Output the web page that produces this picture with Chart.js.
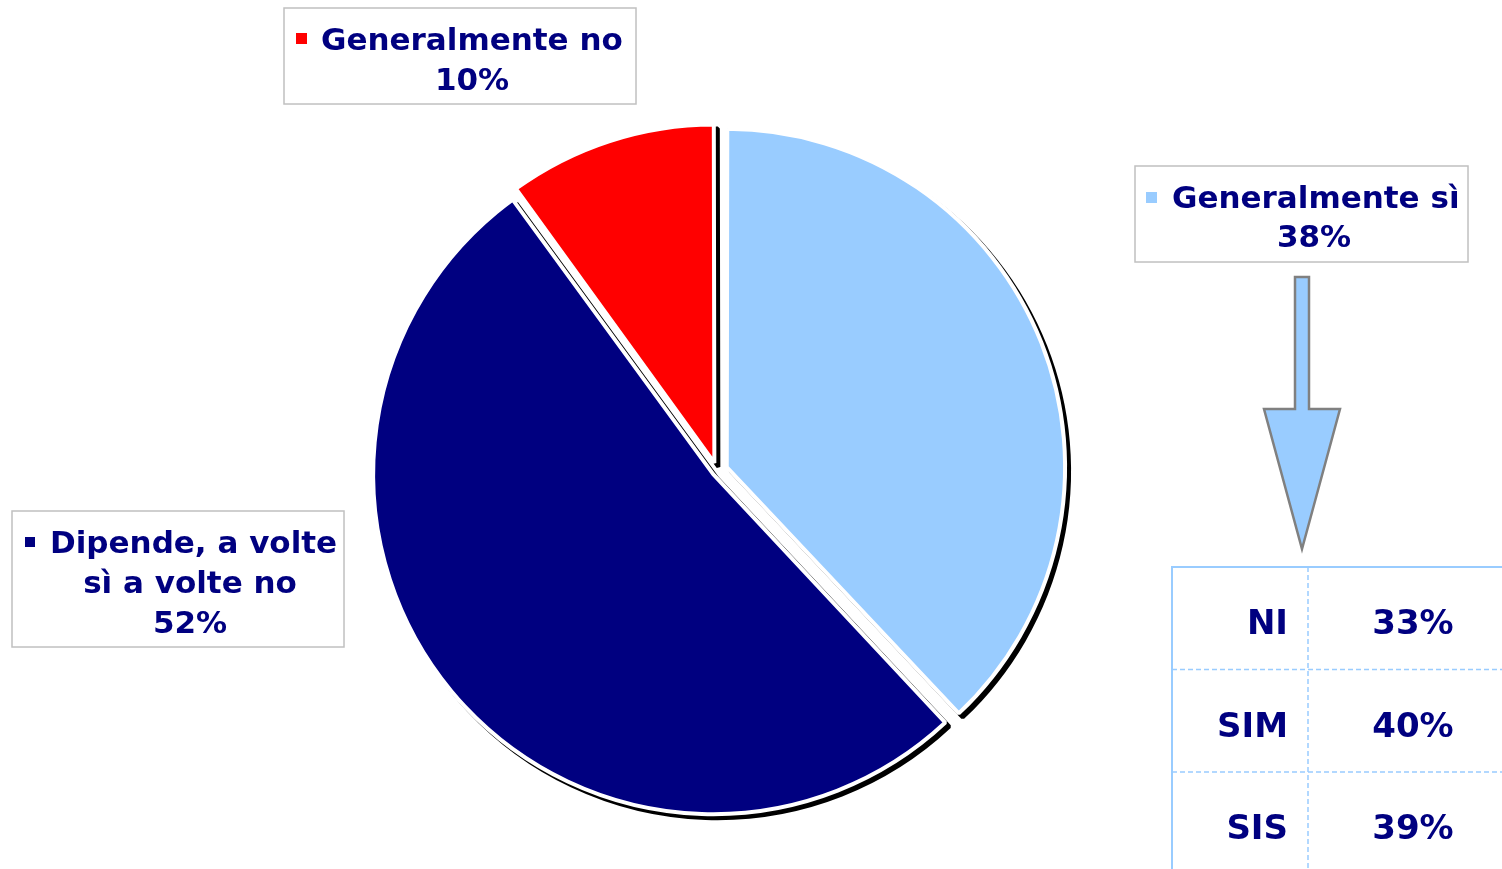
<!DOCTYPE html>
<html>
<head>
<meta charset="utf-8">
<script src="https://cdn.jsdelivr.net/npm/chart.js@4.4.1/dist/chart.umd.min.js"></script>
<style>
  html, body { margin: 0; padding: 0; background: #fff; }
  canvas { display: block; }
</style>
</head>
<body>
<canvas id="torta" width="1502" height="869"></canvas>
<script>
// Dati della torta
const categorie = ['Generalmente sì', 'Dipende, a volte sì a volte no', 'Generalmente no'];
const valori = [38, 52, 10];
const colori = ['#99CCFF', '#000080', '#FF0000'];

// Dettaglio di "Generalmente sì"
const gruppi = ['NI', 'SIM', 'SIS'];
const valoriGruppi = [33, 40, 39];

const coloreTesto = '#000080';
const fontEtichette = 'bold 31px Verdana, "DejaVu Sans", sans-serif';
const fontTabella = 'bold 34px Verdana, "DejaVu Sans", sans-serif';

// Riquadri delle etichette (solo posizioni, il testo arriva dai dati)
const riquadri = [
    { i: 0, box: [1135, 166, 333, 96], bullet: [1146, 192, 11, 11],
      righe: [{ x: 1172, y: 208, align: 'left' }, { x: 1314, y: 247 }], acapo: null },
    { i: 1, box: [12, 511, 332, 136], bullet: [25, 537, 10, 10],
      righe: [{ x: 50, y: 553, align: 'left' }, { x: 190, y: 593 }, { x: 190, y: 633 }], acapo: 16 },
    { i: 2, box: [284, 8, 352, 96], bullet: [296, 33, 11, 11],
      righe: [{ x: 321, y: 50, align: 'left' }, { x: 472, y: 90 }], acapo: null }
];

// Ombra nera: copia delle fette spostata in basso a destra, disegnata sotto
const ombraPlugin = {
    id: 'ombra',
    beforeDatasetsDraw(chart) {
        const ctx = chart.ctx;
        const meta = chart.getDatasetMeta(0);
        ctx.save();
        ctx.translate(4, 4);
        meta.data.forEach(arc => {
            const orig = arc.options;
            const nero = Object.create(orig);
            nero.backgroundColor = '#000';
            nero.borderColor = '#000';
            arc.options = nero;
            arc.draw(ctx);
            arc.options = orig;
        });
        ctx.restore();
    }
};

// Etichette, freccia e tabella
const decoriPlugin = {
    id: 'decori',
    afterDraw(chart) {
        const ctx = chart.ctx;
        ctx.save();

        riquadri.forEach(r => {
            const [bx, by, bw, bh] = r.box;
            ctx.fillStyle = '#fff';
            ctx.fillRect(bx, by, bw, bh);
            ctx.strokeStyle = '#C0C0C0';
            ctx.lineWidth = 1.5;
            ctx.strokeRect(bx, by, bw, bh);

            ctx.fillStyle = colori[r.i];
            ctx.fillRect(...r.bullet);

            const nome = categorie[r.i];
            let testi = r.acapo ? [nome.slice(0, r.acapo), nome.slice(r.acapo + 1)] : [nome];
            testi.push(valori[r.i] + '%');

            ctx.font = fontEtichette;
            ctx.fillStyle = coloreTesto;
            ctx.textBaseline = 'alphabetic';
            testi.forEach((t, k) => {
                const p = r.righe[k];
                ctx.textAlign = p.align || 'center';
                ctx.fillText(t, p.x, p.y);
            });
        });

        // Freccia verso la tabella
        ctx.beginPath();
        ctx.moveTo(1295, 277);
        ctx.lineTo(1309, 277);
        ctx.lineTo(1309, 409);
        ctx.lineTo(1340, 409);
        ctx.lineTo(1302, 549);
        ctx.lineTo(1264, 409);
        ctx.lineTo(1295, 409);
        ctx.closePath();
        ctx.fillStyle = '#99CCFF';
        ctx.fill();
        ctx.strokeStyle = '#808080';
        ctx.lineWidth = 2.5;
        ctx.lineJoin = 'miter';
        ctx.stroke();

        // Tabella
        const tx = 1172, ty = 567, rigaH = 102.5, colX = 1308;
        ctx.strokeStyle = '#99CCFF';
        ctx.lineWidth = 2;
        ctx.setLineDash([]);
        ctx.beginPath();
        ctx.moveTo(tx, 869);
        ctx.lineTo(tx, ty);
        ctx.lineTo(1502, ty);
        ctx.stroke();

        ctx.lineWidth = 1.5;
        ctx.setLineDash([5, 3]);
        ctx.beginPath();
        ctx.moveTo(colX, ty);
        ctx.lineTo(colX, 869);
        for (let k = 1; k < gruppi.length; k++) {
            ctx.moveTo(tx, ty + k * rigaH);
            ctx.lineTo(1502, ty + k * rigaH);
        }
        ctx.stroke();
        ctx.setLineDash([]);

        ctx.font = fontTabella;
        ctx.fillStyle = coloreTesto;
        gruppi.forEach((g, k) => {
            const y = 634 + k * 102.5;
            ctx.textAlign = 'right';
            ctx.fillText(g, 1288, y);
            ctx.textAlign = 'center';
            ctx.fillText(valoriGruppi[k] + '%', 1413, y);
        });

        ctx.restore();
    }
};

const ctx = document.getElementById('torta').getContext('2d');
new Chart(ctx, {
    type: 'pie',
    data: {
        labels: categorie,
        datasets: [{
            data: valori,
            backgroundColor: colori,
            borderColor: '#fff',
            borderWidth: 4,
            offset: [42, 20, 34],
            hoverOffset: 0,
            radius: 335
        }]
    },
    options: {
        responsive: false,
        animation: false,
        layout: { padding: { left: 0, right: 68, top: 73, bottom: 0 } },
        plugins: {
            legend: { display: false },
            tooltip: { enabled: false }
        },
        events: []
    },
    plugins: [ombraPlugin, decoriPlugin]
});
</script>
</body>
</html>
